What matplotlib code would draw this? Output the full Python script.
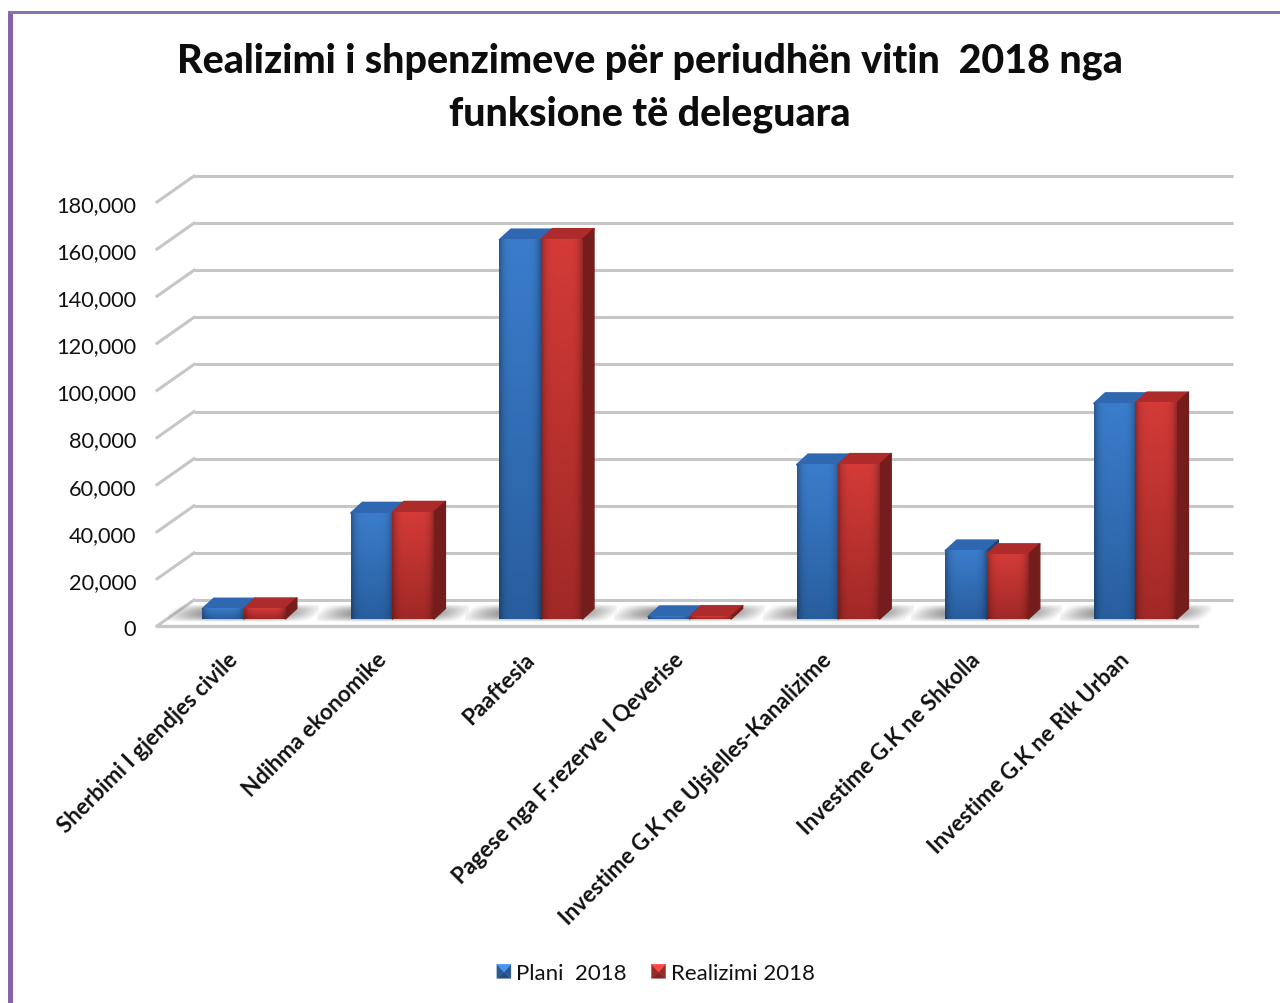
"""Realizimi i shpenzimeve 2018: 3D looking clustered bars on plain axes."""

import matplotlib

matplotlib.use("Agg")

import matplotlib.pyplot as plt
import numpy as np
from matplotlib.legend_handler import HandlerBase
from matplotlib.patches import Patch, Polygon, Rectangle
from matplotlib.transforms import ScaledTranslation

plt.rcParams["font.family"] = ["Lato", "DejaVu Sans"]

TITLE = "Realizimi i shpenzimeve për periudhën vitin  2018 nga\nfunksione të deleguara"
CATEGORIES = [
    "Sherbimi I gjendjes civile",
    "Ndihma ekonomike",
    "Paaftesia",
    "Pagese nga F.rezerve I Qeverise",
    "Investime G.K ne Ujsjelles-Kanalizime",
    "Investime G.K ne Shkolla",
    "Investime G.K ne Rik Urban",
]
PLANI = [4300, 45000, 161000, 1000, 65500, 29000, 91500]
REALIZIMI = [4400, 45400, 161200, 1100, 65700, 27400, 91800]
Y_TICKS = list(range(0, 180001, 20000))
SERIES_NAMES = ["Plani  2018", "Realizimi 2018"]

W, H = 1280, 1004
PX_X = 1 / 148.6  # category units per pixel
PX_Y = 180000 / 424  # value units per pixel

# depth of the walls and of the bars, in pixels
WALL_DX, WALL_DY = 37 * PX_X, 26 * PX_Y
BAR_X0, BAR_Y0 = 12.5 * PX_X, 7 * PX_Y
BAR_W = 41.5 * PX_X
BAR_DX, BAR_DY = 11.5 * PX_X, 10.5 * PX_Y

BLUE = {"top": "#2f68b0", "side": "#1f4677", "light": (0.23, 0.49, 0.80), "dark": (0.16, 0.37, 0.62)}
RED = {"top": "#ad2b2a", "side": "#741d1c", "light": (0.83, 0.23, 0.22), "dark": (0.63, 0.16, 0.15)}
GRID = "#c6c6c6"


def front_gradient(col):
    # lighter in the middle, darker towards bottom and side edges
    ny, nx = 60, 24
    t = np.linspace(0, 1, ny)[:, None, None]
    img = np.array(col["light"])[None, None, :] * (1 - t) + np.array(col["dark"])[None, None, :] * t
    edge = np.abs(np.linspace(-1, 1, nx)) ** 5
    return np.clip(img * (1 - 0.28 * edge)[None, :, None], 0, 1)


def floor_shadow(ax, x0, x1, y0):
    # soft grey shadow lying on the floor, skewed to follow the floor depth
    ny, nx = 40, 160
    yy, xx = np.mgrid[-1:1:ny * 1j, -1:1:nx * 1j]
    xs = xx - 0.12 * yy
    alpha = np.clip(1 - np.abs(xs) ** 2.5, 0, 1) * np.clip(1 - np.abs(yy) ** 2, 0, 1) * 0.85
    img = np.zeros((ny, nx, 4))
    img[..., :3] = 0.42
    img[..., 3] = alpha
    ax.imshow(img, extent=(x0, x1, y0 - 3 * PX_Y, y0 + 15 * PX_Y), aspect="auto",
              origin="lower", zorder=1.5, clip_on=False, interpolation="bilinear")


def draw_bar(ax, x, v, col, z):
    ax.imshow(front_gradient(col), extent=(x, x + BAR_W, BAR_Y0, BAR_Y0 + v), aspect="auto",
              origin="upper", zorder=z + 0.1, interpolation="bilinear")
    top = [(x, BAR_Y0 + v), (x + BAR_W, BAR_Y0 + v),
           (x + BAR_W + BAR_DX, BAR_Y0 + v + BAR_DY), (x + BAR_DX, BAR_Y0 + v + BAR_DY)]
    side = [(x + BAR_W, BAR_Y0), (x + BAR_W + BAR_DX, BAR_Y0 + BAR_DY),
            (x + BAR_W + BAR_DX, BAR_Y0 + v + BAR_DY), (x + BAR_W, BAR_Y0 + v)]
    ax.add_patch(Polygon(top, closed=True, fc=col["top"], ec=col["top"], lw=1.2, joinstyle="round", zorder=z))
    ax.add_patch(Polygon(side, closed=True, fc=col["side"], ec=col["side"], lw=1.0, joinstyle="round", zorder=z))


class BevelHandler(HandlerBase):
    # legend key: little square with pyramid shading
    def create_artists(self, legend, orig_handle, xdescent, ydescent, width, height, fontsize, trans):
        s = width
        x0, y0 = xdescent, ydescent + (height - s) / 2
        c = (x0 + s / 2, y0 + s * 0.45)
        a, b, d, e = (x0, y0), (x0 + s, y0), (x0 + s, y0 + s), (x0, y0 + s)
        col = orig_handle.get_facecolor()
        shades = [(a, b, 0.62), (b, d, 0.72), (e, a, 0.72), (d, e, 1.2)]
        out = []
        for p, q, f in shades:
            rgb = np.clip(np.array(col[:3]) * f, 0, 1)
            out.append(Polygon([p, q, c], closed=True, fc=rgb, ec=rgb, lw=0.3, transform=trans))
        return out


def main() -> None:
    fig = plt.figure(figsize=(W / 100, H / 100), dpi=100)

    # purple page border, left and top only
    fig.add_artist(Rectangle((8 / W, 0), 5 / W, 1 - 12 / H, transform=fig.transFigure, fc="#8565a8", ec="none"))
    fig.add_artist(Rectangle((8 / W, 1 - 15 / H), 1 - 8 / W, 3 / H, transform=fig.transFigure, fc="#8f70ae", ec="none"))

    left, right, bottom, top = 157, 1233, 627, 165
    ax = fig.add_axes((left / W, 1 - bottom / H, (right - left) / W, (bottom - top) / H))
    ax.set_xlim(-0.5, -0.5 + (right - left) * PX_X)
    ax.set_ylim(0, (bottom - top) * PX_Y)
    for s in ax.spines.values():
        s.set_visible(False)

    xs = np.arange(len(CATEGORIES))
    x_left = -0.5
    x_right = x_left + 1040 * PX_X

    # walls
    for v in Y_TICKS:
        ax.plot([x_left + WALL_DX, x_left + (right - left) * PX_X], [v + WALL_DY] * 2,
                color=GRID, lw=2.2, zorder=1, clip_on=False, solid_capstyle="butt")
        ax.plot([x_left, x_left + WALL_DX], [v, v + WALL_DY],
                color=GRID, lw=2.2, zorder=1, clip_on=False)
    ax.plot([x_left, x_right], [0, 0], color=GRID, lw=2.4, zorder=1, clip_on=False)

    for i in xs:
        x_b = i + BAR_X0 - BAR_W
        floor_shadow(ax, x_b - 34 * PX_X, x_b + 2 * BAR_W + 34 * PX_X, BAR_Y0)
    for i in xs:
        draw_bar(ax, i + BAR_X0 - BAR_W, PLANI[i], BLUE, 2 + 0.01 * i)
        draw_bar(ax, i + BAR_X0, REALIZIMI[i], RED, 3 + 0.01 * i)

    ax.set_xlim(-0.5, -0.5 + (right - left) * PX_X)
    ax.set_ylim(0, (bottom - top) * PX_Y)

    ax.set_yticks(Y_TICKS)
    ax.set_yticklabels([f"{v:,}" for v in Y_TICKS])
    ax.tick_params(axis="y", length=0, pad=15, labelsize=15.7, labelcolor="#111111")
    shift = ScaledTranslation(0, -1 / 100, fig.dpi_scale_trans)
    for lab in ax.get_yticklabels():
        lab.set_transform(lab.get_transform() + shift)
    ax.set_xticks(xs - 0.03)
    ax.set_xticklabels(CATEGORIES, rotation=45, ha="right", va="top", rotation_mode="anchor",
                       fontsize=16, fontweight="bold", color="#111111")
    ax.tick_params(axis="x", length=0, pad=16)

    fig.text(650 / W, 1 - 88 / H, TITLE, ha="center", va="center", fontsize=28.4, fontweight="black",
             linespacing=1.5, color="#0d0d0d")

    handles = [Patch(fc=BLUE["light"]), Patch(fc=RED["light"])]
    fig.legend(handles, SERIES_NAMES, handler_map={Patch: BevelHandler()}, loc="center",
               bbox_to_anchor=(656 / W, 1 - 974 / H), ncol=2, frameon=False, fontsize=16,
               handlelength=0.63, handletextpad=0.25, columnspacing=1.1, labelcolor="#111111",
               borderpad=0, borderaxespad=0)

    fig.savefig("out.png", dpi=100)
    plt.close(fig)


if __name__ == "__main__":
    main()
